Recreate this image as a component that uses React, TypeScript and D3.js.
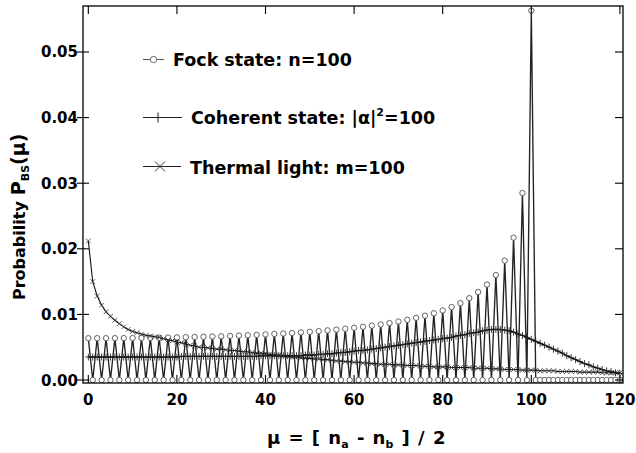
import React from 'react';
import * as d3 from 'd3';

// mu = 0..120
const muValues: number[] = d3.range(0, 121);

// Fock state n=100: peaks at even mu (0,2,...,100); zero at odd mu and beyond 100
const fockPeaks: number[] = [
  0.00637, 0.00637, 0.00637, 0.00638, 0.00639, 0.0064, 0.00641, 0.00643, 0.00645, 0.00647,
  0.0065, 0.00653, 0.00656, 0.00659, 0.00663, 0.00667, 0.00672, 0.00677, 0.00682, 0.00688,
  0.00695, 0.00702, 0.00709, 0.00717, 0.00726, 0.00735, 0.00745, 0.00756, 0.00768, 0.00782,
  0.00796, 0.00811, 0.00829, 0.00847, 0.00868, 0.00892, 0.00917, 0.00947, 0.0098, 0.01017,
  0.01061, 0.01112, 0.01173, 0.01248, 0.0134, 0.01455, 0.0160, 0.0182, 0.0217, 0.0285,
  0.0563,
];

// Coherent state |alpha|^2 = 100
const coherent: number[] = [
  0.0035, 0.0035, 0.0035, 0.0035, 0.0035, 0.0035, 0.0035, 0.0035, 0.0035, 0.0035,
  0.0035, 0.0035, 0.0035, 0.0035, 0.0035, 0.0035, 0.0035, 0.0035, 0.0035, 0.0035,
  0.0035, 0.0036, 0.0036, 0.0036, 0.0036, 0.0036, 0.0036, 0.0036, 0.0036, 0.0036,
  0.0036, 0.0036, 0.0036, 0.0036, 0.0036, 0.0036, 0.0036, 0.0036, 0.0036, 0.0037,
  0.0037, 0.0037, 0.0037, 0.0037, 0.0037, 0.0037, 0.0037, 0.0037, 0.0037, 0.0038,
  0.0038, 0.0038, 0.0039, 0.0039, 0.004, 0.004, 0.0041, 0.0042, 0.0042, 0.0043,
  0.0044, 0.0045, 0.0045, 0.0046, 0.0047, 0.0048, 0.0049, 0.005, 0.0051, 0.0052,
  0.0053, 0.0054, 0.0055, 0.0056, 0.0057, 0.0058, 0.0059, 0.006, 0.0061, 0.0062,
  0.0063, 0.0064, 0.0065, 0.0067, 0.0068, 0.0069, 0.0071, 0.0072, 0.0073, 0.0075,
  0.0076, 0.0077, 0.0077, 0.0077, 0.0076, 0.0075, 0.0073, 0.007, 0.0068, 0.0065,
  0.0062, 0.0059, 0.0056, 0.0053, 0.005, 0.0047, 0.0044, 0.0041, 0.0037, 0.0034,
  0.0031, 0.0028, 0.0025, 0.0023, 0.002, 0.0018, 0.0016, 0.0014, 0.0013, 0.0011,
  0.001,
];

// Thermal light m = 100
const thermal: number[] = [
  0.0212, 0.015, 0.0128, 0.0114, 0.0104, 0.0097, 0.0091, 0.0086, 0.0081, 0.0077,
  0.0074, 0.0072, 0.007, 0.0068, 0.0067, 0.0066, 0.0065, 0.0063, 0.0061, 0.006,
  0.0058, 0.0057, 0.0055, 0.0053, 0.0052, 0.005, 0.005, 0.0049, 0.0048, 0.0047,
  0.0047, 0.0046, 0.0045, 0.0045, 0.0044, 0.0043, 0.0043, 0.0042, 0.0041, 0.0041,
  0.004, 0.0039, 0.0038, 0.0038, 0.0037, 0.0036, 0.0035, 0.0035, 0.0034, 0.0033,
  0.0033, 0.0032, 0.0032, 0.0031, 0.0031, 0.003, 0.0029, 0.0029, 0.0028, 0.0028,
  0.0027, 0.0027, 0.0026, 0.0026, 0.0025, 0.0025, 0.0024, 0.0024, 0.0024, 0.0023,
  0.0023, 0.0023, 0.0022, 0.0022, 0.0022, 0.0021, 0.0021, 0.0021, 0.002, 0.002,
  0.002, 0.002, 0.0019, 0.0019, 0.0019, 0.0019, 0.0019, 0.0018, 0.0018, 0.0018,
  0.0018, 0.0017, 0.0017, 0.0017, 0.0016, 0.0016, 0.0016, 0.0016, 0.0015, 0.0015,
  0.0015, 0.0015, 0.0014, 0.0014, 0.0014, 0.0014, 0.0013, 0.0013, 0.0013, 0.0013,
  0.0013, 0.0012, 0.0012, 0.0012, 0.0012, 0.0012, 0.0011, 0.0011, 0.0011, 0.0011,
  0.0011,
];

const xTicks: number[] = [0, 20, 40, 60, 80, 100, 120];
const yTicks: number[] = [0, 0.01, 0.02, 0.03, 0.04, 0.05];
const yTickLabels: string[] = ['0.00', '0.01', '0.02', '0.03', '0.04', '0.05'];

const FONT = '"DejaVu Sans", Verdana, sans-serif';

export default function App() {
  const W = 636;
  const H = 453;
  const left = 83, right = 623, top = 6, bottom = 383;

  const x = d3.scaleLinear().domain([-1.2, 120.7]).range([left, right]);
  const y = d3.scaleLinear().domain([-0.000457, 0.05701]).range([bottom, top]);

  const fock = muValues.map((m) => (m <= 100 && m % 2 === 0 ? fockPeaks[m / 2] : 0));

  type P = [number, number];
  const fockPts: P[] = muValues.map((m, i) => [m, fock[i]]);
  const cohPts: P[] = muValues.map((m, i) => [m, coherent[i]]);
  const thPts: P[] = muValues.map((m, i) => [m, thermal[i]]);

  const line = d3
    .line<P>()
    .x((d) => x(d[0]))
    .y((d) => y(d[1]));

  return (
    <svg
      width={W}
      height={H}
      viewBox={`0 0 ${W} ${H}`}
      style={{ position: 'absolute', left: 0, top: 0, background: 'white' }}
      fontFamily={FONT}
    >
      <rect x={0} y={0} width={W} height={H} fill="white" />
      <defs>
        <clipPath id="plotClip">
          <rect x={left} y={top} width={right - left} height={bottom - top} />
        </clipPath>
      </defs>

      <g clipPath="url(#plotClip)">
        {/* Fock */}
        <path d={line(fockPts) || ''} fill="none" stroke="#222" strokeWidth={1.35} />
        {fockPts.map((d, i) => (
          <circle
            key={'f' + i}
            cx={x(d[0])}
            cy={y(d[1])}
            r={2.7}
            fill="white"
            stroke="#555"
            strokeWidth={0.9}
          />
        ))}

        {/* Thermal */}
        <path d={line(thPts) || ''} fill="none" stroke="#111" strokeWidth={1.1} />
        {thPts.map((d, i) => {
          const cx = x(d[0]);
          const cy = y(d[1]);
          const s = 2.4;
          return (
            <path
              key={'t' + i}
              d={`M${cx - s},${cy - s}L${cx + s},${cy + s}M${cx - s},${cy + s}L${cx + s},${cy - s}`}
              stroke="#333"
              strokeWidth={0.8}
              fill="none"
            />
          );
        })}

        {/* Coherent */}
        <path d={line(cohPts) || ''} fill="none" stroke="#000" strokeWidth={1.4} />
        {cohPts.map((d, i) => {
          const cx = x(d[0]);
          const cy = y(d[1]);
          return (
            <path
              key={'c' + i}
              d={`M${cx},${cy - 3.5}L${cx},${cy + 3.5}M${cx - 3},${cy}L${cx + 3},${cy}`}
              stroke="#222"
              strokeWidth={0.9}
              fill="none"
            />
          );
        })}
      </g>

      {/* Frame */}
      <rect x={left} y={top} width={right - left} height={bottom - top} fill="none" stroke="#000" strokeWidth={1.3} />

      {/* X ticks */}
      {xTicks.map((t) => (
        <g key={'xt' + t}>
          <line x1={x(t)} x2={x(t)} y1={bottom} y2={bottom - 8} stroke="#000" strokeWidth={1.1} />
          <line x1={x(t)} x2={x(t)} y1={top} y2={top + 8} stroke="#000" strokeWidth={1.1} />
          <text x={x(t)} y={405} textAnchor="middle" fontSize={15} fontWeight="bold" fill="#000">
            {t}
          </text>
        </g>
      ))}

      {/* Y ticks */}
      {yTicks.map((t, i) => (
        <g key={'yt' + t}>
          <line x1={left - 6} x2={left + 6} y1={y(t)} y2={y(t)} stroke="#000" strokeWidth={1.1} />
          <line x1={right} x2={right - 8} y1={y(t)} y2={y(t)} stroke="#000" strokeWidth={1.1} />
          <text x={78} y={y(t) + 5.5} textAnchor="end" fontSize={15} fontWeight="bold" fill="#000">
            {yTickLabels[i]}
          </text>
        </g>
      ))}

      {/* X axis title */}
      <text x={267} y={444} fontSize={18} fontWeight="bold" fill="#000" wordSpacing={2}>
        <tspan>μ = [ n</tspan>
        <tspan fontSize={11} dy={4}>a</tspan>
        <tspan dy={-4}> - n</tspan>
        <tspan fontSize={11} dy={4}>b</tspan>
        <tspan dy={-4}> ] / 2</tspan>
      </text>

      {/* Y axis title */}
      <text
        transform="translate(25,300) rotate(-90)"
        x={0}
        y={0}
        fontSize={16}
        fontWeight="bold"
        fill="#000"
      >
        <tspan>Probability</tspan>
        <tspan dx={6} fontSize={19}>P</tspan>
        <tspan fontSize={11} dy={4}>BS</tspan>
        <tspan fontSize={19} dy={-4}>(μ)</tspan>
      </text>

      {/* Legend */}
      <g>
        <line x1={143} x2={164} y1={59.5} y2={59.5} stroke="#555" strokeWidth={1} />
        <circle cx={153.5} cy={59.5} r={3.2} fill="white" stroke="#555" strokeWidth={0.9} />
        <text x={173} y={66} fontSize={17.5} fontWeight="bold" fill="#000">
          Fock state: n=100
        </text>

        <line x1={143} x2={182} y1={117.5} y2={117.5} stroke="#222" strokeWidth={1.2} />
        <path d={`M158,${117.5 - 5}L158,${117.5 + 5}`} stroke="#222" strokeWidth={1} />
        <text x={191} y={124} fontSize={17.5} fontWeight="bold" fill="#000">
          <tspan>Coherent state: |α|</tspan>
          <tspan fontSize={11} dy={-8}>2</tspan>
          <tspan dy={8}>=100</tspan>
        </text>

        <line x1={143} x2={181} y1={166.5} y2={166.5} stroke="#222" strokeWidth={1.1} />
        <path
          d={`M${160 - 5},${166.5 - 5}L${160 + 5},${166.5 + 5}M${160 - 5},${166.5 + 5}L${160 + 5},${166.5 - 5}`}
          stroke="#222"
          strokeWidth={0.9}
        />
        <text x={190} y={173.5} fontSize={17.5} fontWeight="bold" fill="#000">
          Thermal light: m=100
        </text>
      </g>
    </svg>
  );
}
